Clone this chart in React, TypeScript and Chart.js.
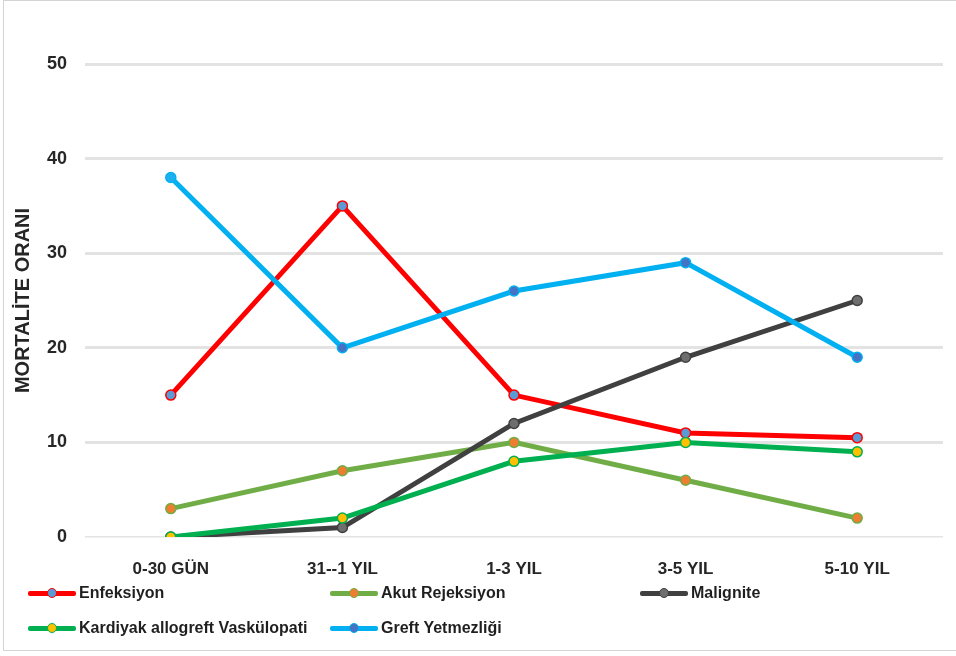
import React, { useEffect, useRef } from "react";
import { Chart, registerables } from "chart.js";

Chart.register(...registerables);

const categories = ["0-30 GÜN", "31--1 YIL", "1-3 YIL", "3-5 YIL", "5-10 YIL"];
const enfeksiyon = [15, 35, 15, 11, 10.5];
const akutRejeksiyon = [3, 7, 10, 6, 2];
const malignite = [0, 1, 12, 19, 25];
const kardiyak = [0, 2, 8, 10, 9];
const greft = [38, 20, 26, 29, 19];
const yTicks = [0, 10, 20, 30, 40, 50];
const yTitle = "MORTALİTE ORANI";

const seriesNames = [
  "Enfeksiyon",
  "Akut Rejeksiyon",
  "Malignite",
  "Kardiyak allogreft Vaskülopati",
  "Greft Yetmezliği",
];
const seriesData = [enfeksiyon, akutRejeksiyon, malignite, kardiyak, greft];
const lineColors = ["#FF0000", "#70AD47", "#404040", "#00B050", "#00B0F0"];
const pointFills = ["#5B9BD5", "#ED7D31", "#6E6E6E", "#FFC000", "#4472C4"];

const FONT = "'Liberation Sans', Arial, sans-serif";

function LegendSymbol({ line, fill }: { line: string; fill: string }) {
  return (
    <div style={{ position: "relative", width: 48, height: 14, flex: "0 0 48px" }}>
      <div
        style={{
          position: "absolute",
          left: 0,
          right: 0,
          top: 5,
          height: 5,
          background: line,
          borderRadius: 2,
        }}
      />
      <div
        style={{
          position: "absolute",
          left: 19,
          top: 2,
          width: 8,
          height: 8,
          borderRadius: "50%",
          background: fill,
          border: `1.5px solid ${line}`,
        }}
      />
    </div>
  );
}

export default function App() {
  const canvasRef = useRef<HTMLCanvasElement | null>(null);

  useEffect(() => {
    const canvas = canvasRef.current;
    if (!canvas) return;
    const n = seriesNames.length;
    const chart = new Chart(canvas, {
      type: "line",
      data: {
        labels: categories,
        datasets: seriesNames.map((name, i) => ({
          label: name,
          data: seriesData[i],
          borderColor: lineColors[i],
          backgroundColor: lineColors[i],
          borderWidth: 5,
          pointRadius: 5,
          pointBorderWidth: 1.5,
          pointBorderColor: lineColors[i],
          pointBackgroundColor:
            i === 4
              ? seriesData[i].map((_, j) => (j === 0 ? "#1EAFEF" : pointFills[i]))
              : pointFills[i],
          tension: 0,
          fill: false,
          order: n - i,
        })),
      },
      options: {
        responsive: false,
        animation: false,
        layout: { padding: { left: 8, right: 13, top: 64, bottom: 69 } },
        plugins: {
          legend: { display: false },
          tooltip: { enabled: false },
        },
        scales: {
          x: {
            offset: true,
            grid: { display: false, drawTicks: false },
            border: { display: false },
            ticks: {
              padding: 22,
              color: "#262626",
              font: { family: FONT, size: 17, weight: "bold" },
              maxRotation: 0,
              autoSkip: false,
            },
            afterFit: (scale: any) => {
              scale.height = 50;
            },
          },
          y: {
            min: yTicks[0],
            max: yTicks[yTicks.length - 1],
            afterBuildTicks: (scale: any) => {
              scale.ticks = yTicks.map((v) => ({ value: v }));
            },
            grid: {
              drawTicks: false,
              color: "#E3E3E3",
              lineWidth: (ctx: any) => (ctx.tick && ctx.tick.value === 0 ? 1.5 : 3),
            },
            border: { display: false },
            ticks: {
              padding: 18,
              color: "#262626",
              font: { family: FONT, size: 18, weight: "bold" },
            },
            title: {
              display: true,
              text: yTitle,
              color: "#262626",
              padding: { top: 3, bottom: 0 },
              font: { family: FONT, size: 20, weight: "bold" },
            },
            afterFit: (scale: any) => {
              scale.width = 77;
            },
          },
        },
      },
    });
    return () => chart.destroy();
  }, []);

  return (
    <div
      style={{
        position: "fixed",
        left: 0,
        top: 0,
        width: 956,
        height: 656,
        background: "#FFFFFF",
        overflow: "hidden",
        fontFamily: FONT,
      }}
    >
      <div
        style={{
          position: "absolute",
          left: 3,
          top: 0,
          width: 970,
          height: 651,
          border: "1px solid #D4D4D4",
          boxSizing: "border-box",
        }}
      />
      <canvas
        ref={canvasRef}
        width={956}
        height={656}
        style={{ position: "absolute", left: 0, top: 0, width: 956, height: 656 }}
      />
      <div
        style={{
          position: "absolute",
          left: 28,
          top: 583,
          width: 930,
          display: "flex",
          flexWrap: "wrap",
          rowGap: 15,
        }}
      >
        {seriesNames.map((name, i) => (
          <div
            key={name}
            style={{
              width: i % 3 === 1 ? 310 : 302,
              display: "flex",
              alignItems: "center",
              height: 20,
            }}
          >
            <LegendSymbol line={lineColors[i]} fill={pointFills[i]} />
            <span
              style={{
                marginLeft: 3,
                fontSize: 16,
                fontWeight: "bold",
                color: "#1F1F1F",
                whiteSpace: "nowrap",
              }}
            >
              {name}
            </span>
          </div>
        ))}
      </div>
    </div>
  );
}
